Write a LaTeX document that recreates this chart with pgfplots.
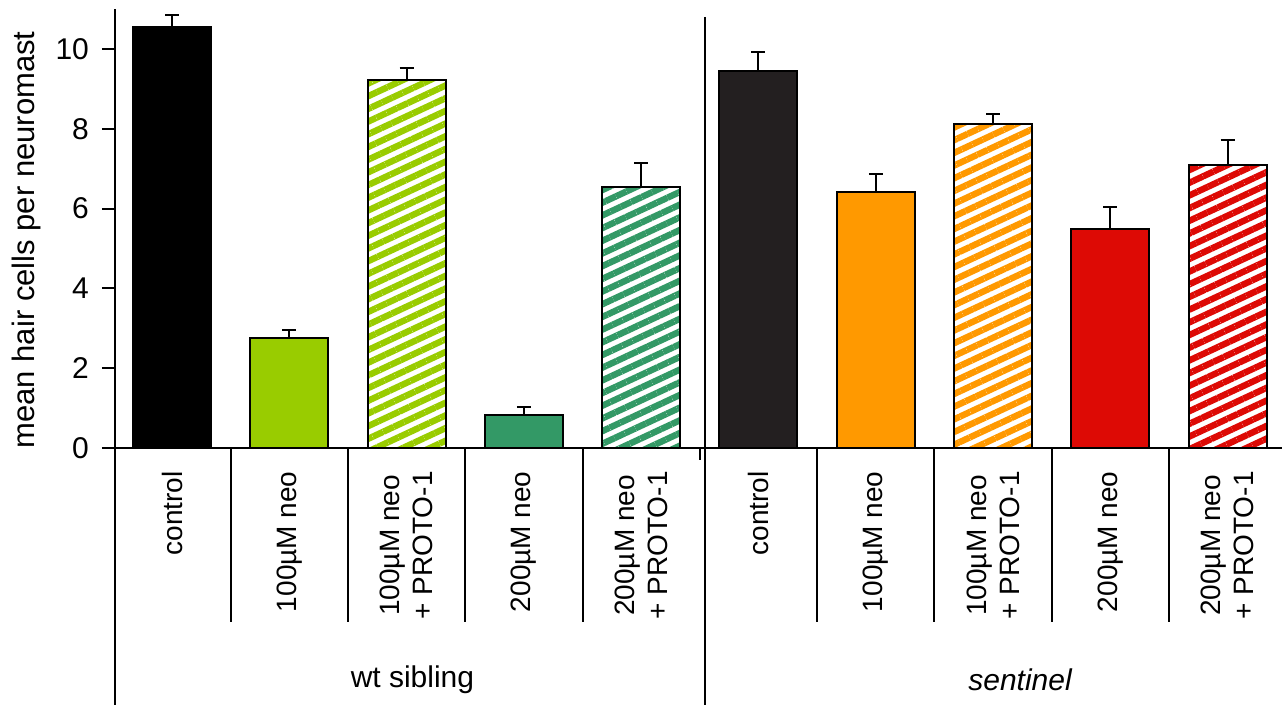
\documentclass[border=0pt]{standalone}
\usepackage{pgfplots}
\pgfplotsset{compat=1.18}
\usepackage{fontspec}
\setmainfont{Liberation Sans}
\usetikzlibrary{patterns.meta}

\definecolor{lime}{HTML}{99CC00}
\definecolor{sea}{HTML}{339966}
\definecolor{sctrl}{HTML}{231F20}
\definecolor{orng}{HTML}{FF9900}
\definecolor{rd}{HTML}{DD0A05}

\pgfplotsset{
  solidbar/.style={draw=black, line width=1pt, fill=#1},
  stripebar/.style={draw=black, line width=1pt, preaction={fill=white},
    pattern={Lines[angle=25,distance=5.75pt,line width=3.2pt]}, pattern color=#1},
}

\begin{document}
\begin{tikzpicture}
\useasboundingbox (-57.5pt,-132pt) rectangle (583.5pt,224pt);
\begin{axis}[
  at={(0,0)}, anchor=south west, scale only axis,
  width=583.5pt, height=219.5pt,
  xmin=-0.486, xmax=9.463, ymin=0, ymax=11,
  clip=false,
  axis x line=bottom, axis y line=left,
  axis line style={-, line width=1pt},
  ytick={0,2,...,10}, tick align=outside, major tick length=6.5pt,
  y tick style={line width=1pt, black},
  xtick={0,...,9}, x tick style={draw=none},
  xticklabels={control, 100µM neo, {100µM neo\\+ PROTO-1}, 200µM neo, {200µM neo\\+ PROTO-1},
               control, 100µM neo, {100µM neo\\+ PROTO-1}, 200µM neo, {200µM neo\\+ PROTO-1}},
  xticklabel style={yshift=-5pt, rotate=90, anchor=east, align=center, inner sep=0pt,
    font=\fontsize{14}{16.5}\selectfont},
  yticklabel style={xshift=-3pt, font=\fontsize{15}{15}\selectfont, /pgf/number format/assume math mode=true},
  ylabel={mean hair cells per neuromast},
  ylabel style={at={(axis description cs:-0.0686,0.474)}, anchor=base, rotate=0,
    font=\fontsize{15.5}{15.5}\selectfont},
  ybar, bar width=0.665, bar shift=0pt,
  error bars/y dir=plus, error bars/y explicit,
  error bars/error bar style={line width=1pt, black},
  error bars/error mark options={rotate=90, mark size=3.5pt, line width=1pt, black},
]
  % wt sibling
  \addplot[solidbar=black]  coordinates {(0,10.56) +- (0,0.28)};
  \addplot[solidbar=lime]   coordinates {(1,2.76) +- (0,0.20)};
  \addplot[stripebar=lime]  coordinates {(2,9.21) +- (0,0.31)};
  \addplot[solidbar=sea]    coordinates {(3,0.83) +- (0,0.19)};
  \addplot[stripebar=sea]   coordinates {(4,6.53) +- (0,0.62)};
  % sentinel
  \addplot[solidbar=sctrl]  coordinates {(5,9.45) +- (0,0.48)};
  \addplot[solidbar=orng]   coordinates {(6,6.42) +- (0,0.44)};
  \addplot[stripebar=orng]  coordinates {(7,8.11) +- (0,0.25)};
  \addplot[solidbar=rd]     coordinates {(8,5.48) +- (0,0.57)};
  \addplot[stripebar=rd]    coordinates {(9,7.10) +- (0,0.62)};

  % category separators below the axis
  \pgfplotsinvokeforeach{0.5,1.5,2.5,3.5,5.5,6.5,7.5,8.5}{
    \draw[line width=1pt] (axis cs:#1,0) -- ++(0pt,-87pt);
  }
  \draw[line width=1pt] (axis cs:4.5,0) -- ++(0pt,-6pt);
  \draw[line width=1pt] (axis cs:4.544,10.8) -- (axis cs:4.544,0) -- ++(0pt,-128.5pt);
  \draw[line width=1pt] (rel axis cs:0,0) -- ++(0pt,-128.5pt);

  \node[font=\fontsize{15}{15}\selectfont] at (axis cs:2.05,0) [yshift=-116pt] {wt sibling};
  \node[font=\fontsize{15}{15}\selectfont\itshape] at (axis cs:7.23,0) [yshift=-116pt] {sentinel};
\end{axis}
\end{tikzpicture}
\end{document}
